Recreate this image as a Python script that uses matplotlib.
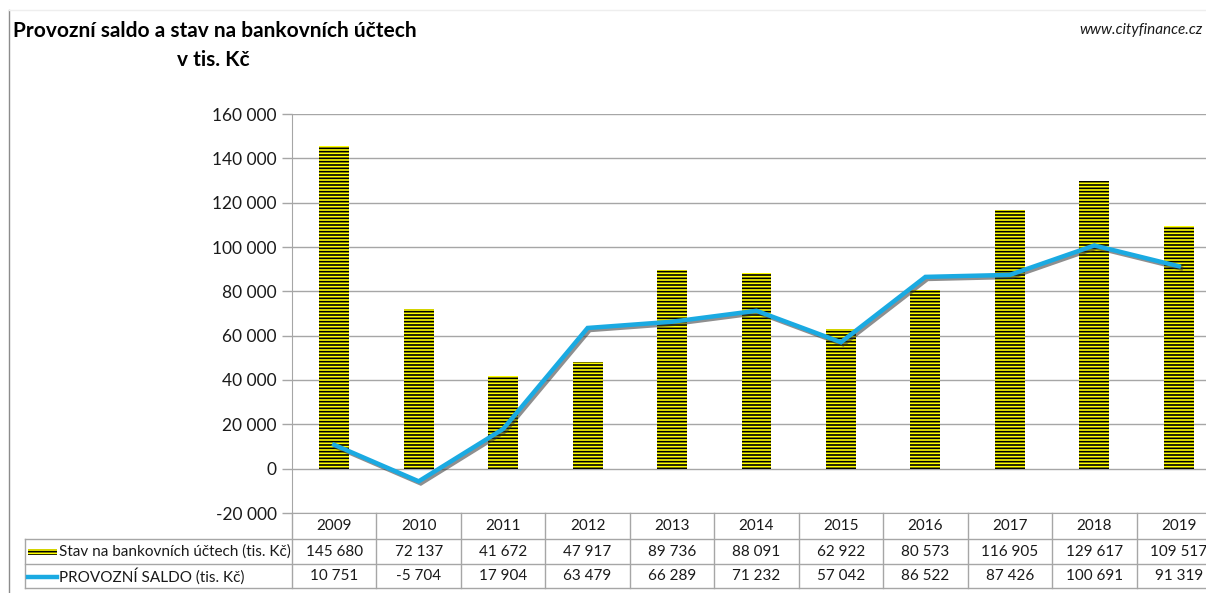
"""Provozni saldo a stav na bankovnich uctech - bar + line chart with data table"""

import matplotlib
matplotlib.use('Agg')
import matplotlib.pyplot as plt
import matplotlib.patheffects as pe
from matplotlib.lines import Line2D
from matplotlib.patches import Rectangle
from matplotlib import transforms

years = ['2009', '2010', '2011', '2012', '2013', '2014', '2015', '2016', '2017', '2018', '2019']
stav_uctu = [145680, 72137, 41672, 47917, 89736, 88091, 62922, 80573, 116905, 129617, 109517]
provozni_saldo = [10751, -5704, 17904, 63479, 66289, 71232, 57042, 86522, 87426, 100691, 91319]
series_names = ['Stav na bankovních účtech (tis. Kč)', 'PROVOZNÍ SALDO (tis. Kč)']
y_ticks = [-20000, 0, 20000, 40000, 60000, 80000, 100000, 120000, 140000, 160000]

YELLOW = '#FFFF00'
BLUE = '#1AAAE2'
GRID = '#A6A6A6'
TEXT = '#1a1a1a'


def fmt(v):
    """thousands separated by a space"""
    return f'{v:,}'.replace(',', ' ')


plt.rcParams['font.family'] = ['Lato', 'DejaVu Sans']
plt.rcParams['hatch.linewidth'] = 1.2

W, H = 1206, 593
fig = plt.figure(figsize=(W / 100, H / 100), dpi=100)
ax_left, ax_right, ax_top, ax_bot = 292, 1221, 114, 513
ax = fig.add_axes([ax_left / W, 1 - ax_bot / H,
                   (ax_right - ax_left) / W, (ax_bot - ax_top) / H])

x = list(range(len(years)))
ax.bar(x, stav_uctu, width=0.355, color=YELLOW, edgecolor='black',
       hatch='-----', linewidth=0, zorder=2)
ax.plot(x, provozni_saldo, color=BLUE, linewidth=3.2, zorder=3,
        solid_joinstyle='miter',
        path_effects=[pe.SimpleLineShadow(offset=(1.5, -1.5), shadow_color='#333333', alpha=0.55),
                      pe.Normal()])

ax.set_xlim(-0.5, len(years) - 0.5)
ax.set_ylim(-20000, 160000)
ax.set_yticks(y_ticks)
ax.set_yticklabels([fmt(v) for v in y_ticks], fontsize=12.5, color=TEXT)
ax.set_xticks([])
ax.tick_params(axis='y', length=7, width=1, color=GRID, pad=4)
ax.grid(axis='y', color=GRID, linewidth=1, zorder=0)
ax.set_axisbelow(True)
for side in ['top', 'right']:
    ax.spines[side].set_visible(False)
ax.spines['left'].set_color(GRID)
ax.spines['bottom'].set_color(GRID)

# data table under the plot
px = 1 / (ax_bot - ax_top)
row_lines = [-(539 - 513) * px, -(564 - 513) * px, -(588 - 513) * px]
row_mid = [-(526 - 513) * px, -(551.5 - 513) * px, -(576.5 - 513) * px]
mixed = transforms.blended_transform_factory(ax.transData, ax.transAxes)
left_col = (25 - ax_left) / (ax_right - ax_left)

for i in range(len(years) + 1):
    ax.add_line(Line2D([i - 0.5, i - 0.5], [0, row_lines[2]], transform=mixed,
                       color=GRID, linewidth=1, clip_on=False))
for yl in row_lines:
    ax.add_line(Line2D([left_col, 1], [yl, yl], transform=ax.transAxes,
                       color=GRID, linewidth=1, clip_on=False))
ax.add_line(Line2D([left_col, left_col], [row_lines[0], row_lines[2]],
                   transform=ax.transAxes, color=GRID, linewidth=1, clip_on=False))

for i, yr in enumerate(years):
    ax.text(i, row_mid[0], yr, transform=mixed, ha='center', va='center',
            fontsize=11, color=TEXT, clip_on=False)
    ax.text(i, row_mid[1], fmt(stav_uctu[i]), transform=mixed, ha='center',
            va='center', fontsize=11, color=TEXT, clip_on=False)
    ax.text(i, row_mid[2], fmt(provozni_saldo[i]), transform=mixed, ha='center',
            va='center', fontsize=11, color=TEXT, clip_on=False)

# legend keys in the first column
key_x0 = (28 - ax_left) / (ax_right - ax_left)
key_w = 29 / (ax_right - ax_left)
ax.add_patch(Rectangle((key_x0, row_mid[1] - 3 * px), key_w, 6 * px,
                       transform=ax.transAxes, facecolor=YELLOW, edgecolor='black',
                       hatch='-----', linewidth=0, clip_on=False))
ax.add_line(Line2D([key_x0, key_x0 + key_w], [row_mid[2], row_mid[2]],
                   transform=ax.transAxes, color=BLUE, linewidth=3.2, clip_on=False))
txt_x = (59 - ax_left) / (ax_right - ax_left)
ax.text(txt_x, row_mid[1], series_names[0], transform=ax.transAxes, ha='left',
        va='center', fontsize=11, color=TEXT, clip_on=False)
ax.text(txt_x, row_mid[2], series_names[1], transform=ax.transAxes, ha='left',
        va='center', fontsize=11, color=TEXT, clip_on=False)

# chart frame and titles
fig.add_artist(Line2D([9 / W, 9 / W], [0, 1 - 10 / H], color='#8c8c8c', linewidth=1))
fig.add_artist(Line2D([9 / W, 1], [1 - 10 / H, 1 - 10 / H], color='#eeeeee', linewidth=1))
fig.text(13 / W, 1 - 31 / H, 'Provozní saldo a stav na bankovních účtech',
         fontsize=15, fontweight='bold', color='black', ha='left', va='center')
fig.text(213 / W, 1 - 60 / H, 'v tis. Kč', fontsize=15, fontweight='bold',
         color='black', ha='center', va='center')
fig.text(1203 / W, 1 - 30 / H, 'www.cityfinance.cz', fontsize=11,
         style='italic', color=TEXT, ha='right', va='center')

fig.savefig('out.png', dpi=100)
